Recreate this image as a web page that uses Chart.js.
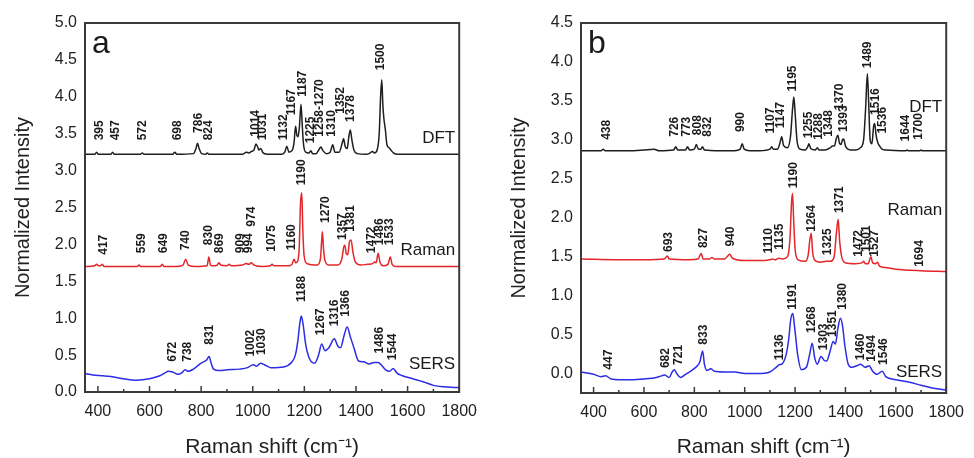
<!DOCTYPE html>
<html lang="en">
<head>
<meta charset="UTF-8">
<title>Raman spectra</title>
<script src="https://cdn.jsdelivr.net/npm/chart.js@4/dist/chart.umd.min.js"></script>
<style>
  * { box-sizing: border-box; margin: 0; padding: 0; }
  body { background: #fff; width: 974px; height: 458px; overflow: hidden; position: relative; font-family: Arial, "Liberation Sans", sans-serif; }
  .panel { position: absolute; top: 0; width: 487px; height: 458px; }
</style>
</head>
<body>
<div class="panel" style="left:0"><canvas id="chartA" width="487" height="458"></canvas></div>
<div class="panel" style="left:487px"><canvas id="chartB" width="487" height="458"></canvas></div>
<script>
// spectra: [shift cm-1, normalized intensity]
const dftA = [[350,3.22],[388,3.22],[395,3.25],[402,3.22],[450,3.22],[457,3.25],[464,3.22],[565,3.22],[572,3.24],[579,3.22],
  [690,3.22],[698,3.25],[706,3.22],[770,3.23],[780,3.30],[786,3.37],[792,3.30],[802,3.23],[818,3.22],[824,3.24],[830,3.22],
  [900,3.22],[960,3.22],[975,3.25],[985,3.24],[995,3.26],[1005,3.28],[1012,3.36],[1018,3.33],[1024,3.28],[1031,3.30],[1040,3.24],
  [1060,3.22],[1110,3.22],[1124,3.25],[1132,3.33],[1140,3.25],[1152,3.27],[1160,3.38],[1166,3.60],[1171,3.48],[1176,3.46],
  [1181,3.60],[1187,3.90],[1192,3.60],[1197,3.35],[1205,3.25],[1218,3.24],[1225,3.27],[1232,3.23],[1245,3.23],[1256,3.28],
  [1264,3.32],[1272,3.27],[1285,3.23],[1300,3.25],[1310,3.35],[1318,3.25],[1335,3.25],[1345,3.35],[1352,3.43],[1358,3.33],
  [1366,3.30],[1372,3.45],[1378,3.55],[1384,3.42],[1392,3.28],[1405,3.23],[1440,3.22],[1455,3.24],[1463,3.26],[1472,3.24],
  [1482,3.28],[1490,3.50],[1496,4.05],[1500,4.23],[1504,3.90],[1508,3.71],[1514,3.55],[1520,3.35],[1528,3.31],[1535,3.28],
  [1545,3.24],[1560,3.22],[1800,3.22]]
const ramanA = [[350,1.70],[388,1.71],[395,1.73],[402,1.71],[410,1.71],[417,1.73],[424,1.70],[480,1.70],[552,1.70],[559,1.72],
  [566,1.70],[600,1.70],[642,1.70],[649,1.73],[656,1.70],[700,1.70],[730,1.72],[740,1.80],[750,1.72],[780,1.70],[823,1.71],
  [830,1.83],[836,1.72],[850,1.71],[862,1.72],[869,1.75],[876,1.72],[900,1.71],[909,1.73],[916,1.71],[960,1.72],[974,1.74],
  [985,1.73],[994,1.75],[1005,1.72],[1040,1.70],[1068,1.71],[1075,1.73],[1082,1.71],[1140,1.71],[1152,1.73],[1160,1.80],
  [1166,1.75],[1172,1.76],[1180,1.95],[1185,2.55],[1190,2.70],[1194,2.20],[1199,1.85],[1210,1.74],[1250,1.72],[1262,1.80],
  [1267,2.05],[1270,2.17],[1274,1.95],[1280,1.78],[1295,1.72],[1330,1.72],[1345,1.80],[1353,1.97],[1357,1.99],[1362,1.88],
  [1368,1.86],[1375,2.04],[1381,2.06],[1388,1.90],[1398,1.76],[1420,1.72],[1445,1.73],[1465,1.74],[1472,1.76],[1478,1.75],
  [1486,1.88],[1493,1.76],[1505,1.71],[1524,1.73],[1533,1.83],[1540,1.73],[1555,1.70],[1800,1.70]]
const sersA = [[350,0.25],[380,0.23],[420,0.22],[450,0.21],[500,0.18],[550,0.16],[600,0.18],[640,0.22],[660,0.26],[672,0.28],
  [690,0.27],[710,0.24],[725,0.26],[738,0.30],[750,0.28],[770,0.31],[800,0.39],[820,0.43],[831,0.48],[838,0.40],[848,0.31],
  [870,0.29],[900,0.30],[950,0.31],[980,0.33],[1002,0.37],[1015,0.35],[1030,0.39],[1045,0.37],[1070,0.33],[1120,0.34],
  [1150,0.40],[1165,0.50],[1175,0.70],[1182,0.92],[1188,1.03],[1195,0.92],[1205,0.65],[1220,0.45],[1240,0.39],[1255,0.50],
  [1267,0.65],[1280,0.56],[1295,0.60],[1316,0.72],[1330,0.62],[1340,0.60],[1355,0.78],[1366,0.88],[1378,0.75],[1392,0.60],
  [1410,0.42],[1430,0.41],[1450,0.38],[1470,0.40],[1486,0.40],[1500,0.36],[1515,0.30],[1530,0.28],[1544,0.32],[1558,0.26],
  [1580,0.22],[1620,0.18],[1660,0.14],[1700,0.09],[1740,0.07],[1800,0.06]]

const dftB = [[350,2.86],[430,2.86],[438,2.88],[446,2.86],[560,2.86],[600,2.87],[640,2.88],[660,2.86],[718,2.87],[726,2.91],
  [734,2.87],[765,2.87],[773,2.91],[781,2.87],[800,2.88],[808,2.94],[816,2.88],[826,2.88],[832,2.91],[840,2.87],[900,2.86],
  [960,2.86],[982,2.88],[990,2.95],[998,2.88],[1020,2.86],[1060,2.86],[1100,2.88],[1107,2.91],[1114,2.88],[1130,2.88],
  [1140,2.96],[1147,3.04],[1154,2.93],[1170,2.90],[1182,3.05],[1190,3.40],[1195,3.55],[1200,3.35],[1208,2.98],[1220,2.88],
  [1240,2.87],[1250,2.91],[1255,2.95],[1262,2.89],[1280,2.87],[1288,2.90],[1296,2.87],[1320,2.87],[1340,2.90],[1348,2.92],
  [1356,2.92],[1364,3.02],[1370,3.06],[1376,2.96],[1382,2.94],[1388,3.00],[1393,3.01],[1400,2.92],[1420,2.87],[1440,2.87],
  [1460,2.90],[1472,3.00],[1480,3.40],[1487,3.85],[1492,3.50],[1498,3.00],[1505,2.95],[1512,3.18],[1516,3.21],[1522,3.05],
  [1530,2.95],[1536,2.92],[1545,2.88],[1560,2.87],[1640,2.86],[1644,2.87],[1650,2.86],[1695,2.86],[1700,2.87],[1706,2.86],
  [1800,2.86]]
const ramanB = [[350,1.47],[500,1.46],[600,1.46],[680,1.47],[693,1.51],[700,1.47],[780,1.46],[815,1.47],[827,1.54],[835,1.47],
  [860,1.47],[870,1.49],[880,1.47],[920,1.47],[930,1.50],[940,1.53],[952,1.48],[1000,1.45],[1080,1.45],[1100,1.46],[1110,1.47],
  [1120,1.46],[1135,1.48],[1150,1.47],[1170,1.50],[1180,1.75],[1186,2.20],[1190,2.31],[1194,2.00],[1200,1.60],[1212,1.46],
  [1240,1.44],[1252,1.52],[1258,1.70],[1264,1.80],[1270,1.55],[1280,1.45],[1300,1.43],[1325,1.44],[1340,1.44],[1355,1.50],
  [1364,1.80],[1371,1.98],[1377,1.70],[1385,1.50],[1400,1.42],[1440,1.41],[1465,1.42],[1472,1.44],[1480,1.41],[1490,1.41],
  [1501,1.50],[1508,1.42],[1520,1.41],[1527,1.43],[1535,1.38],[1560,1.36],[1600,1.34],[1700,1.32],[1800,1.31]]
const sersB = [[350,0.02],[400,-0.01],[430,-0.04],[447,-0.03],[470,-0.07],[500,-0.08],[550,-0.08],[600,-0.07],[650,-0.05],
  [670,-0.03],[682,-0.02],[700,-0.05],[712,0.02],[721,0.05],[730,0.00],[745,-0.05],[765,-0.01],[790,0.04],[812,0.10],
  [822,0.15],[833,0.29],[840,0.12],[850,0.04],[865,0.06],[880,0.03],[920,0.02],[960,0.02],[1000,0.00],[1050,0.00],[1100,0.02],
  [1125,0.08],[1136,0.11],[1150,0.13],[1165,0.25],[1175,0.45],[1183,0.70],[1191,0.77],[1198,0.60],[1210,0.25],[1225,0.05],
  [1245,0.08],[1258,0.25],[1268,0.39],[1278,0.20],[1288,0.12],[1303,0.22],[1315,0.17],[1325,0.16],[1340,0.30],[1351,0.41],
  [1360,0.38],[1370,0.58],[1380,0.71],[1388,0.62],[1398,0.35],[1410,0.13],[1425,0.08],[1445,0.10],[1460,0.12],[1478,0.08],
  [1494,0.10],[1508,0.03],[1525,-0.01],[1546,0.03],[1560,-0.04],[1600,-0.08],[1650,-0.11],[1700,-0.15],[1750,-0.19],[1800,-0.21]]

// peak labels: [text, shift where the label sits, intensity at the label's foot]
const peaksA = [
  ['395',408,3.41],['457',470,3.41],['572',574,3.41],['698',708,3.41],['786',791,3.51],['824',829,3.41],
  ['1014',1011,3.46],['1031',1040,3.41],['1132',1120,3.41],['1167',1152,3.75],['1187',1193,4.00],['1225',1224,3.37],
  ['1258-1270',1261,3.46],['1310',1307,3.46],['1352',1339,3.77],['1378',1379,3.66],['1500',1497,4.36],
  ['417',423,1.86],['559',568,1.88],['649',655,1.88],['740',741,1.92],['830',829,1.99],['869',870,1.88],['909',955,1.88],
  ['994',984,1.88],['974',995,2.24],['1075',1075,1.90],['1160',1152,1.92],['1190',1191,2.80],['1270',1281,2.29],
  ['1357',1347,2.06],['1381',1381,2.17],['1472',1460,1.88],['1486',1491,1.99],['1533',1529,1.99],
  ['672',688,0.41],['738',746,0.41],['831',833,0.64],['1002',991,0.48],['1030',1033,0.50],['1188',1188,1.22],
  ['1267',1265,0.77],['1316',1317,0.89],['1366',1362,1.02],['1486',1491,0.52],['1544',1542,0.43]]
const peaksB = [
  ['438',452,3.00],['726',723,3.04],['773',771,3.04],['808',813,3.06],['832',853,3.04],['990',986,3.10],['1107',1105,3.08],
  ['1147',1144,3.15],['1195',1191,3.62],['1255',1254,3.02],['1288',1292,3.00],['1348',1335,3.04],['1370',1376,3.38],
  ['1393',1393,3.10],['1489',1490,3.92],['1516',1521,3.32],['1536',1548,3.08],['1644',1641,2.98],['1700',1692,3.00],
  ['693',698,1.56],['827',837,1.61],['940',943,1.63],['1110',1094,1.54],['1135',1137,1.59],['1190',1195,2.38],
  ['1264',1264,1.82],['1325',1331,1.52],['1371',1377,2.06],['1472',1452,1.50],['1501',1484,1.56],['1527',1517,1.50],
  ['1694',1694,1.37],
  ['447',461,0.05],['682',685,0.07],['721',737,0.11],['833',837,0.37],['1136',1137,0.17],['1191',1191,0.82],
  ['1268',1265,0.52],['1303',1312,0.30],['1351',1350,0.47],['1380',1389,0.82],['1460',1461,0.17],['1494',1506,0.15],
  ['1546',1551,0.11]]

// trace names: [text, intensity at text centre]
const namesA = [['DFT',3.44],['Raman',1.92],['SERS',0.37]]
const namesB = [['DFT',3.42],['Raman',2.10],['SERS',0.01]]

const BLACK = '#1e1e1e', RED = '#e3262a', BLUE = '#2c2ce6'
const FONT = 'Arial, "Liberation Sans", sans-serif'

const decor = {
  id: 'decor',
  afterDatasetsDraw(chart, args, o) {
    const { ctx, chartArea: a, scales: { x, y } } = chart
    ctx.save()
    ctx.strokeStyle = '#3a3a3a'
    ctx.lineWidth = 2
    ctx.strokeRect(a.left, a.top, a.right - a.left, a.bottom - a.top)

    // inward ticks on the bottom axis, minor halfway between labels
    ctx.lineWidth = 1.5
    x.ticks.forEach(t => {
      const p = x.getPixelForValue(t.value)
      ctx.beginPath(); ctx.moveTo(p, a.bottom); ctx.lineTo(p, a.bottom - 6); ctx.stroke()
      const m = x.getPixelForValue(t.value - 100)
      if (m > a.left) { ctx.beginPath(); ctx.moveTo(m, a.bottom); ctx.lineTo(m, a.bottom - 3); ctx.stroke() }
    })

    ctx.fillStyle = '#1a1a1a'
    ctx.font = 'bold 12px ' + FONT
    ctx.textAlign = 'left'
    ctx.textBaseline = 'middle'
    o.peaks.forEach(([txt, sx, iy]) => {
      ctx.save()
      ctx.translate(x.getPixelForValue(sx), y.getPixelForValue(iy))
      ctx.rotate(-Math.PI / 2)
      ctx.fillText(txt, 0, 0)
      ctx.restore()
    })

    ctx.font = '17px ' + FONT
    ctx.textAlign = 'right'
    o.names.forEach(([txt, iy]) => ctx.fillText(txt, a.right - 4, y.getPixelForValue(iy)))

    ctx.font = '32px ' + FONT
    ctx.textAlign = 'left'
    ctx.fillText(o.letter, a.left + 7, a.top + 21)
    ctx.restore()
  }
}

function series(points, color) {
  return {
    data: points.map(p => ({ x: p[0], y: p[1] })),
    borderColor: color, borderWidth: 1.5, pointRadius: 0,
    cubicInterpolationMode: 'monotone', fill: false
  }
}

function makePanel(id, cfg) {
  return new Chart(document.getElementById(id), {
    type: 'line',
    data: { datasets: cfg.sets },
    options: {
      responsive: false, animation: false, devicePixelRatio: 1,
      layout: { padding: { top: 23, right: cfg.right, left: 0, bottom: 0 } },
      plugins: {
        legend: { display: false }, tooltip: { enabled: false },
        decor: { peaks: cfg.peaks, names: cfg.names, letter: cfg.letter }
      },
      scales: {
        x: {
          type: 'linear', min: 350, max: 1800,
          grid: { display: false, drawTicks: false }, border: { display: false },
          ticks: { stepSize: 200, includeBounds: false, padding: 10, color: '#222', font: { size: 16, family: FONT }, callback: v => v },
          title: { display: true, text: 'Raman shift (cm⁻¹)', color: '#222', font: { size: 21, family: FONT, lineHeight: 1 }, padding: 0 },
          afterFit: s => { s.height = cfg.xh }
        },
        y: {
          type: 'linear', min: cfg.ymin, max: cfg.ymax,
          grid: { display: false, drawTicks: false }, border: { display: false },
          ticks: { stepSize: 0.5, includeBounds: false, padding: 8, color: '#222', font: { size: 16, family: FONT }, callback: v => v.toFixed(1) },
          title: { display: true, text: 'Normalized Intensity', color: '#222', font: { size: 20, family: FONT }, padding: { top: cfg.tp, bottom: 0 } },
          afterFit: s => { s.width = cfg.yw }
        }
      }
    },
    plugins: [decor]
  })
}

makePanel('chartA', {
  sets: [series(dftA, BLACK), series(ramanA, RED), series(sersA, BLUE)],
  peaks: peaksA, names: namesA, letter: 'a',
  ymin: 0, ymax: 5, right: 27, xh: 66, yw: 85, tp: 11
})
makePanel('chartB', {
  sets: [series(dftB, BLACK), series(ramanB, RED), series(sersB, BLUE)],
  peaks: peaksB, names: namesB, letter: 'b',
  ymin: -0.25, ymax: 4.5, right: 19, xh: 65, yw: 94, tp: 20.5
})
</script>
</body>
</html>
